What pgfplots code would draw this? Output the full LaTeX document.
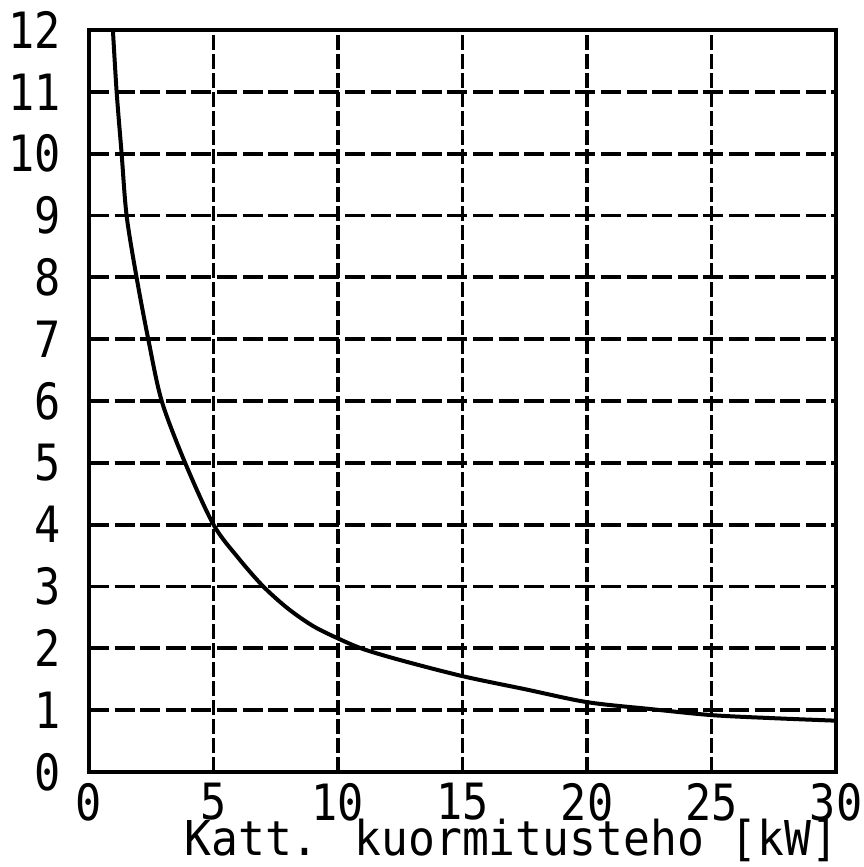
\documentclass[border=0pt]{standalone}
\usepackage{fontspec}
\setmainfont{DejaVu Sans Mono}[FakeStretch=0.87]
\newfontfamily\labelfont{DejaVu Sans Mono}[FakeStretch=0.93]
\usepackage{pgfplots}
\pgfplotsset{compat=1.18}

% Load curve: x = load power in kW, y = ratio
\pgfplotstableread{
x     y
0.96  12.0
1.11  11.0
1.31  10.0
1.51  9.0
1.91  8.0
2.38  7.0
2.92  6.0
3.86  5.0
5.00  4.0
6.00  3.46
7.00  3.0
8.00  2.64
9.00  2.36
10.0  2.16
11.0  1.99
12.5  1.81
15.0  1.55
17.5  1.34
20.0  1.13
22.5  1.02
25.0  0.92
27.5  0.87
30.0  0.83
}\curvedata

\begin{document}
\begin{tikzpicture}
\begin{axis}[
  scale only axis,
  width=373.5bp, height=371bp,
  xmin=0, xmax=30, ymin=0, ymax=12,
  xtick={0,5,...,30}, ytick={0,1,...,12},
  major tick length=0pt,
  axis line style={line width=2bp},
  grid=major,
  x grid style={black, line width=1.9bp, dash pattern=on 7.5bp off 2bp},
  y grid style={black, line width=1.9bp, dash pattern=on 10bp off 2.8bp},
  /pgf/number format/assume math mode=true,
  tick label style={font=\fontsize{25bp}{25bp}\selectfont, inner sep=0pt},
  xticklabel style={anchor=north, yshift=-5.5bp},
  yticklabel style={anchor=east, xshift=-14bp},
  xlabel={Katt. kuormitusteho [kW]},
  xlabel style={font=\labelfont\fontsize{24bp}{24bp}\selectfont, inner sep=0pt,
    at={(axis description cs:0.5655,0)}, anchor=north, yshift=-23.5bp},
]
\addplot[black, line width=2bp, smooth, tension=0.5] table[x=x, y=y] {\curvedata};
\coordinate (sw) at (rel axis cs:0,0);
\coordinate (ne) at (rel axis cs:1,1);
\end{axis}
\pgfresetboundingbox
\path ([shift={(-44.5bp,-47.5bp)}]sw) rectangle ([shift={(14bp,15bp)}]ne);
\end{tikzpicture}
\end{document}
